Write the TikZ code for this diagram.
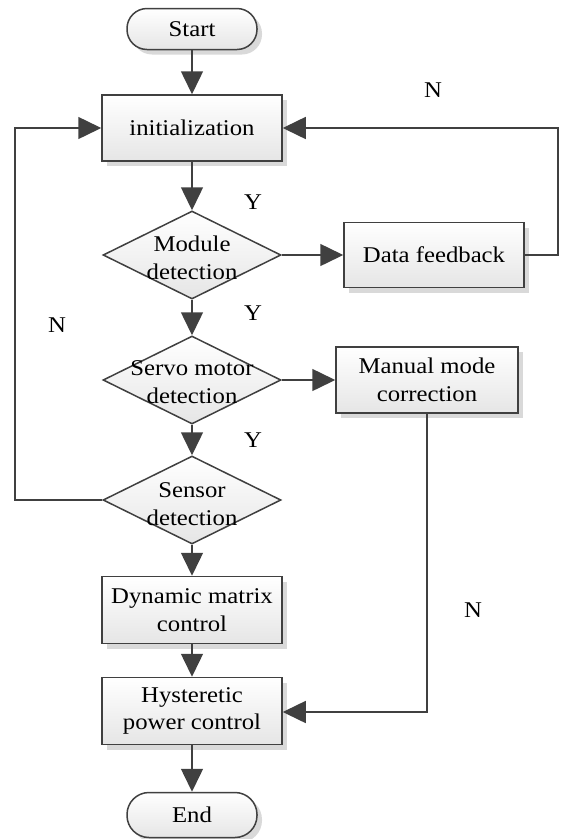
\documentclass[tikz,border=0pt]{standalone}
\usepackage{fontspec}
\setmainfont{Liberation Serif}[FakeStretch=1.1]
\usetikzlibrary{arrows.meta,shapes.geometric,shadows}
\definecolor{ln}{HTML}{404040}
\tikzset{
  base/.style={draw=ln, line width=1.5pt, top color=white, bottom color=black!10, inner sep=0pt, align=center},
  boxnode/.style={base, rectangle, minimum width=180pt, minimum height=66pt,
     drop shadow={shadow xshift=5pt, shadow yshift=-5pt, fill=black!15, opacity=1}},
  termnode/.style={base, rectangle, rounded corners=20pt, minimum width=130pt, minimum height=41pt,
     drop shadow={shadow xshift=5pt, shadow yshift=-5pt, fill=black!15, opacity=1}},
  decnode/.style={base, diamond, minimum width=178pt, minimum height=88pt, aspect=2},
  txt/.style={align=center, inner sep=0pt},
  conn/.style={draw=ln, line width=1.5pt, -{Triangle[length=23pt,width=22pt]}, color=ln},
  lbl/.style={inner sep=0pt}
}
\begin{document}
\begin{tikzpicture}[x=1pt,y=-1pt,font=\fontsize{22.5}{27.5}\selectfont]
\useasboundingbox (0,0) rectangle (561,839);
\node[termnode] (start) at (192,29) {Start};
\node[boxnode] (init) at (192,128) {initialization};
\node[decnode] (mod) at (192,255) {};
\node[txt] (modt) at (192,258) {Module\\detection};
\node[boxnode, minimum width=180pt, minimum height=65pt] (data) at (434,255) {Data feedback};
\node[decnode] (servo) at (192,380) {};
\node[txt] (servot) at (192,382) {Servo motor\\detection};
\node[boxnode, minimum width=182pt] (man) at (427,380) {Manual mode\\correction};
\node[decnode] (sens) at (192,500) {};
\node[txt] (senst) at (192,504) {Sensor\\detection};
\node[boxnode, minimum height=67pt] (dmc) at (192,610) {Dynamic matrix\\control};
\node[boxnode, minimum height=67pt] (hyst) at (192,711) {Hysteretic\\power control};
\node[termnode, minimum height=45pt, rounded corners=22pt] (end) at (192,815) {End};

\coordinate (r1) at (558,255);
\coordinate (r2) at (558,128);
\coordinate (l1) at (15,500);
\coordinate (l2) at (15,128);
\coordinate (m1) at (427,712);

\draw[conn] (start) -- (init);
\draw[conn] (init) -- (mod);
\draw[conn] (mod.east) -- (data.west);
\draw[conn] (data.east) -- (r1) -- (r2) -- (init.east);
\draw[conn] (mod) -- (servo);
\draw[conn] (servo.east) -- (man.west);
\draw[conn] (servo) -- (sens);
\draw[conn] (sens.west) -- (l1) -- (l2) -- (init.west);
\draw[conn] (sens) -- (dmc);
\draw[conn] (dmc) -- (hyst);
\draw[conn] (man.south) -- (m1) -- (hyst.east |- m1);
\draw[conn] (hyst) -- (end);

\node[lbl] (n1) at (433,90) {N};
\node[lbl] (y1) at (253,202) {Y};
\node[lbl] (n2) at (57,325) {N};
\node[lbl] (y2) at (253,313) {Y};
\node[lbl] (y3) at (253,440) {Y};
\node[lbl] (n3) at (473,610) {N};
\end{tikzpicture}
\end{document}
